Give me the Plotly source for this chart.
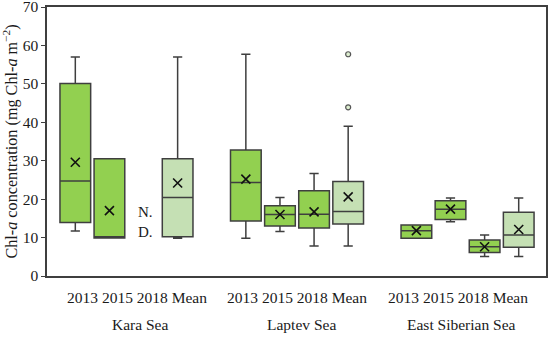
import plotly.graph_objects as go

groups = ["Kara Sea", "Laptev Sea", "East Siberian Sea"]
series = ["2013", "2015", "2018", "Mean"]

# per series: values for each group (None = no data)
lowerfence = {
    "2013": [11.7, 9.8, 9.8],
    "2015": [9.9, 11.6, 14.1],
    "2018": [None, 7.8, 5.1],
    "Mean": [9.8, 7.8, 5.1],
}
q1 = {
    "2013": [13.9, 14.3, 9.8],
    "2015": [9.9, 13.0, 14.7],
    "2018": [None, 12.5, 6.1],
    "Mean": [10.2, 13.5, 7.5],
}
median = {
    "2013": [24.7, 24.3, 11.8],
    "2015": [10.2, 16.0, 17.4],
    "2018": [None, 16.1, 7.6],
    "Mean": [20.4, 16.8, 10.7],
}
q3 = {
    "2013": [50.1, 32.8, 13.3],
    "2015": [30.5, 18.3, 19.6],
    "2018": [None, 22.2, 9.4],
    "Mean": [30.5, 24.6, 16.6],
}
upperfence = {
    "2013": [57.0, 57.7, 13.3],
    "2015": [30.5, 20.4, 20.3],
    "2018": [None, 26.7, 10.7],
    "Mean": [57.0, 39.0, 20.3],
}
means = {
    "2013": [29.6, 25.2, 11.8],
    "2015": [17.0, 16.0, 17.4],
    "2018": [None, 16.7, 7.6],
    "Mean": [24.2, 20.6, 12.1],
}
outlier_group = ["Laptev Sea", "Laptev Sea"]
outlier_series = ["Mean", "Mean"]
outlier_values = [43.9, 57.7]

colors = {"2013": "#92D050", "2015": "#92D050", "2018": "#92D050", "Mean": "#C5E0B4"}
LINE = "#3F3F3F"
FONT = "Liberation Serif, Times New Roman, serif"

def slot(g, s):
    return groups.index(g) * 5 + series.index(s)

fig = go.Figure()
for s in series:
    xs, a, b, c, d, e, m = [], [], [], [], [], [], []
    for gi, g in enumerate(groups):
        if median[s][gi] is None:
            continue
        xs.append(slot(g, s))
        a.append(lowerfence[s][gi]); b.append(q1[s][gi]); c.append(median[s][gi])
        d.append(q3[s][gi]); e.append(upperfence[s][gi]); m.append(means[s][gi])
    fig.add_trace(go.Box(
        x=xs, lowerfence=a, q1=b, median=c, q3=d, upperfence=e,
        width=0.9, whiskerwidth=0.3, fillcolor=colors[s],
        line=dict(color=LINE, width=1.5), boxpoints=False, showlegend=False,
    ))
    fig.add_trace(go.Scatter(
        x=xs, y=m, mode="markers", showlegend=False,
        marker=dict(symbol="x-thin-open", size=9, color="#111111",
                    line=dict(color="#111111", width=1.6)),
    ))

fig.add_trace(go.Scatter(
    x=[slot(g, s) for g, s in zip(outlier_group, outlier_series)], y=outlier_values,
    mode="markers", showlegend=False,
    marker=dict(symbol="circle", size=5, color="#DDEED0", line=dict(color="#555555", width=1.2)),
))

# tick-label rows and group names
label_x = [1.82, 6.5, 11.22]
group_x = [1.9, 6.64, 11.33]
for gi, g in enumerate(groups):
    fig.add_annotation(x=label_x[gi], y=0, xref="x", yref="paper", yshift=-32,
                       text=" ".join(series), showarrow=False,
                       font=dict(family=FONT, size=15.5, color="#1a1a1a"))
    fig.add_annotation(x=group_x[gi], y=0, xref="x", yref="paper", yshift=-59,
                       text=g, showarrow=False,
                       font=dict(family=FONT, size=15.5, color="#1a1a1a"))

fig.add_annotation(x=slot("Kara Sea", "2018"), y=14.0, xref="x", yref="y", xshift=2,
                   text="N.<br>D.", showarrow=False, align="left",
                   font=dict(family=FONT, size=15, color="#1a1a1a"))

fig.update_layout(
    width=550, height=338,
    margin=dict(l=47, r=4, t=7, b=62),
    paper_bgcolor="white", plot_bgcolor="white",
    boxmode="overlay",
    font=dict(family=FONT, size=15, color="#1a1a1a"),
)
fig.update_xaxes(range=[-0.83, 13.8], showticklabels=False, ticks="", automargin=False,
                 showgrid=False, zeroline=False, showline=True, mirror=True,
                 linecolor=LINE, linewidth=1.5)
fig.update_yaxes(range=[0, 70], dtick=10, ticks="outside", ticklen=4, tickcolor=LINE,
                 showgrid=False, zeroline=False, showline=True, mirror=True,
                 linecolor=LINE, linewidth=1.5, ticklabeloverflow="allow", automargin=False,
                 tickfont=dict(family=FONT, size=15.5),
                 title=dict(text="Chl-<i>a</i> concentration (mg Chl-<i>a</i> m<sup>−2</sup>)",
                            font=dict(family=FONT, size=16.2), standoff=6))

fig.write_html("out.html", config={"displayModeBar": False},
               post_script="document.body.style.margin='0';document.body.style.overflow='hidden';")
